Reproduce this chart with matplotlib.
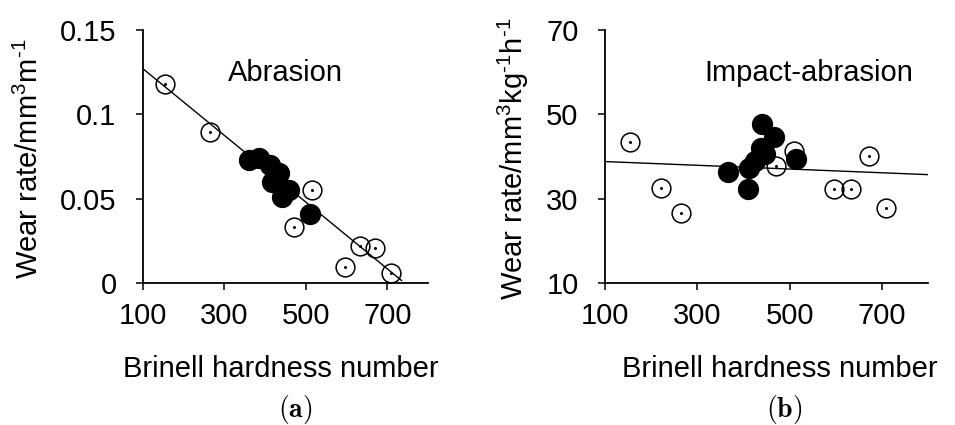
import matplotlib
matplotlib.use("Agg")
import matplotlib.pyplot as plt

plt.rcParams['font.family'] = ['Liberation Sans', 'DejaVu Sans']
plt.rcParams['mathtext.fontset'] = 'custom'
plt.rcParams['mathtext.rm'] = 'Liberation Sans'
plt.rcParams['mathtext.default'] = 'regular'

# ---- data: (a) Abrasion ----
a_open_x = [155, 265, 514, 471, 632, 671, 595, 708]
a_open_y = [0.118, 0.0896, 0.055, 0.0334, 0.0221, 0.0209, 0.0097, 0.0061]
a_fill_x = [361, 385, 412, 434, 417, 459, 441, 511]
a_fill_y = [0.073, 0.074, 0.070, 0.065, 0.060, 0.055, 0.051, 0.041]
a_line_x = [100, 735]
a_line_y = [0.127, 0.0015]

# ---- data: (b) Impact-abrasion ----
b_open_x = [155, 222, 265, 510, 470, 596, 634, 672, 708]
b_open_y = [43.4, 32.5, 26.5, 41.2, 37.8, 32.2, 32.2, 40.0, 27.9]
b_fill_x = [441, 467, 438, 447, 424, 413, 366, 409, 513]
b_fill_y = [47.6, 44.7, 42.0, 40.6, 39.0, 37.2, 36.4, 32.4, 39.4]
b_line_x = [100, 800]
b_line_y = [38.8, 35.7]

x_ticks = [100, 300, 500, 700]
x_ticklabels = ['100', '300', '500', '700']
a_yticks = [0, 0.05, 0.1, 0.15]
a_yticklabels = ['0', '0.05', '0.1', '0.15']
b_yticks = [10, 30, 50, 70]
b_yticklabels = ['10', '30', '50', '70']

FS = 21
MS = 13.5

fig = plt.figure(figsize=(9.55, 4.25), dpi=100)
axa = fig.add_axes([143/955, 1-283/425, 285/955, 253/425])
axb = fig.add_axes([605/955, 1-283/425, 323/955, 253/425])


def style(ax, yticks, yticklabels, ylim):
    ax.set_xlim(100, 800)
    ax.set_ylim(*ylim)
    ax.set_xticks(x_ticks)
    ax.set_xticklabels(x_ticklabels, fontsize=FS)
    ax.set_yticks(yticks)
    ax.set_yticklabels(yticklabels, fontsize=FS)
    for s in ['top', 'right']:
        ax.spines[s].set_visible(False)
    for s in ['left', 'bottom']:
        ax.spines[s].set_linewidth(1.3)
    ax.tick_params(direction='out', length=5, width=1.1, color='black')
    ax.tick_params(axis='y', pad=14)
    ax.tick_params(axis='x', pad=9)


def draw(ax, ox, oy, fx, fy, lx, ly):
    ax.plot(ox, oy, 'o', ms=MS, mfc='none', mec='black', mew=1.1, zorder=2)
    ax.plot(ox, oy, 'o', ms=1.2, color='black', zorder=2)
    ax.plot(lx, ly, '-', color='black', lw=1.0, zorder=3)
    ax.plot(fx, fy, 'o', ms=MS + 0.8, color='black', mec='black', zorder=4)


style(axa, a_yticks, a_yticklabels, (0, 0.15))
style(axb, b_yticks, b_yticklabels, (10, 70))
draw(axa, a_open_x, a_open_y, a_fill_x, a_fill_y, a_line_x, a_line_y)
draw(axb, b_open_x, b_open_y, b_fill_x, b_fill_y, b_line_x, b_line_y)

axa.set_xlabel('Brinell hardness number', fontsize=FS)
axb.set_xlabel('Brinell hardness number', fontsize=FS)
axa.xaxis.set_label_coords(0.485, -0.285)
axb.xaxis.set_label_coords(0.542, -0.285)

axa.set_ylabel(r'Wear rate/mm$^{3}$m$^{\text{-}1}$', fontsize=FS, va='center')
axb.set_ylabel(r'Wear rate/mm$^{3}$kg$^{\text{-}1}$h$^{\text{-}1}$', fontsize=FS, va='center')
axa.yaxis.set_label_coords(-0.40, 0.49)
axb.yaxis.set_label_coords(-0.285, 0.49)

axa.text(0.5, 0.83, 'Abrasion', transform=axa.transAxes, fontsize=FS,
         ha='center', va='center')
axb.text(0.632, 0.83, 'Impact-abrasion', transform=axb.transAxes, fontsize=FS,
         ha='center', va='center')

fig.text(295/955, 1-410/425, r'$\mathbf{(a)}$', fontsize=20, ha='center',
         va='center', math_fontfamily='cm')
fig.text(784/955, 1-410/425, r'$\mathbf{(b)}$', fontsize=20, ha='center',
         va='center', math_fontfamily='cm')

fig.savefig('out.png', dpi=100)
